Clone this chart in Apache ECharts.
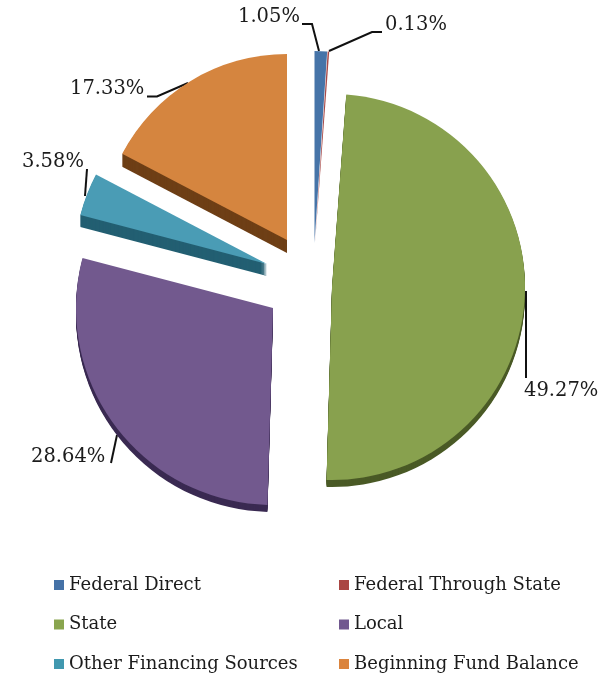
<!DOCTYPE html>
<html><head><meta charset="utf-8">
<style>html,body{margin:0;padding:0;background:#fff}#c{width:611px;height:675px}</style>
<script src="https://cdn.jsdelivr.net/npm/echarts@6/dist/echarts.min.js"></script>
</head><body><div id="c"></div>
<script>
const names = ['Federal Direct','Federal Through State','State','Local','Other Financing Sources','Beginning Fund Balance'];
const values = [1.05,0.13,49.27,28.64,3.58,17.33];
const faceColors = ['#4674A8','#A84A48','#88A14E','#72598E','#4A9CB5','#D5853F'];
const sideColors = ['#2F5078','#7A2F2D','#4A5A26','#3A2A52','#235F72','#6E3F16'];
const legendColors = ['#4572A7','#AA4643','#89A54E','#71588F','#4198AF','#DB843D'];

const centers = [[314.5,243],[315,243],[332,287],[273,308],[267,264],[287,240]];
const radii = [192,192,193,197,193,186];
const depths = [0,0,7,7,12,13];
const labelBoxes = [[238,17],[385,25],[524,391],[31,457],[22,162],[70,89]];
const leaderLines = [
  [[302,24],[312,24],[319,51]],
  [[329,51],[372,32],[382,32]],
  [[526,291],[526,378]],
  [[117,435],[111,463]],
  [[87,169],[85,196]],
  [[147,96.5],[157,96.5],[188,83]]
];
const FONT = '"DejaVu Serif"';

function slice(k, color, dy, withLabel){
  return {
    type:'pie', silent:true, animation:false, avoidLabelOverlap:false,
    startAngle:90, clockwise:true,
    center:[centers[k][0], centers[k][1]+dy], radius:[0,radii[k]],
    label:{show:false}, labelLine:{show:false},
    data:names.map((n,i)=>{
      const on = i===k;
      return {
        name:n, value:values[i],
        itemStyle:{color:on?color:'transparent', borderWidth:0},
        label:{show:on&&withLabel, position:'outside', formatter:v=>v.value.toFixed(2)+'%',
          fontFamily:FONT, fontSize:19.5, color:'#1c1c1c'},
        labelLine:{show:on&&withLabel, lineStyle:{color:'#111', width:2}}
      };
    }),
    labelLayout:withLabel ? ()=>({
      x:labelBoxes[k][0], y:labelBoxes[k][1], align:'left', verticalAlign:'middle',
      labelLinePoints:leaderLines[k]
    }) : undefined
  };
}
const series=[];
names.forEach((_,k)=>{
  for(let d=depths[k];d>=1;d--) series.push(slice(k,sideColors[k],d,false));
  series.push(slice(k,faceColors[k],0,true));
});
function legend(idx,left){
  return {orient:'vertical',left,top:575,padding:0,itemWidth:10,itemHeight:10,itemGap:19.5,icon:'rect',
    selectedMode:false,
    textStyle:{fontFamily:FONT,fontSize:18,color:'#1c1c1c',lineHeight:20},
    data:idx.map(i=>({name:names[i],itemStyle:{color:legendColors[i]}}))};
}
const chart=echarts.init(document.getElementById('c'),null,{renderer:'canvas'});
chart.setOption({animation:false,backgroundColor:'#fff',
  legend:[legend([0,2,4],54),legend([1,3,5],339)],series});
</script></body></html>
